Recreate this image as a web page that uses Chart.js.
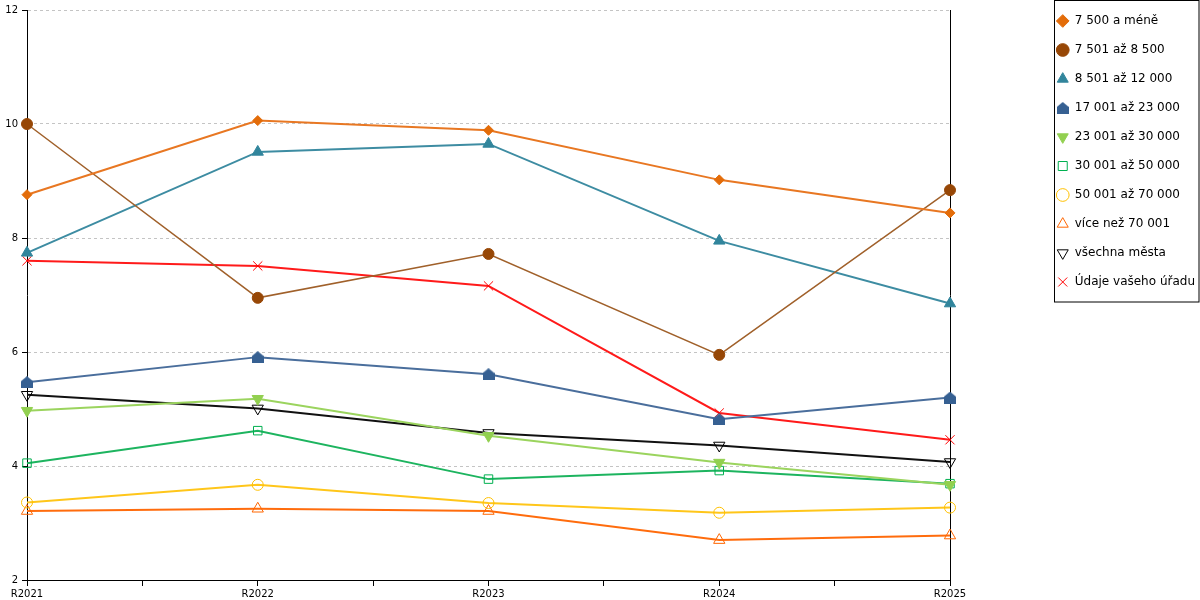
<!DOCTYPE html>
<html>
<head>
<meta charset="utf-8">
<script src="https://cdn.jsdelivr.net/npm/chart.js@4/dist/chart.umd.min.js"></script>
<style>
  body { margin: 0; background: #fff; }
</style>
</head>
<body>
<canvas id="chart" width="1200" height="600"></canvas>
<script>
var years = ["R2021", "R2022", "R2023", "R2024", "R2025"];

var names = [
  "7 500 a méně",
  "7 501 až 8 500",
  "8 501 až 12 000",
  "17 001 až 23 000",
  "23 001 až 30 000",
  "30 001 až 50 000",
  "50 001 až 70 000",
  "více než 70 001",
  "všechna města",
  "Údaje vašeho úřadu"
];

var upTo7500 = [8.76, 10.06, 9.89, 9.02, 8.44];
var to8500 = [10.0, 6.95, 7.72, 5.95, 8.84];
var to12000 = [7.74, 9.51, 9.65, 7.95, 6.85];
var to23000 = [5.47, 5.91, 5.61, 4.82, 5.2];
var to30000 = [4.97, 5.18, 4.53, 4.06, 3.67];
var to50000 = [4.05, 4.62, 3.77, 3.92, 3.69];
var to70000 = [3.36, 3.67, 3.35, 3.18, 3.27];
var over70001 = [3.21, 3.25, 3.21, 2.7, 2.78];
var allTowns = [5.25, 5.01, 4.58, 4.36, 4.07];
var yourOffice = [7.6, 7.51, 7.16, 4.93, 4.46];

var yTicks = [2, 4, 6, 8, 10, 12];

// house shaped marker for 17 001 - 23 000
function houseMarker(color) {
  var c = document.createElement("canvas");
  c.width = 12;
  c.height = 12;
  var g = c.getContext("2d");
  g.fillStyle = color;
  g.beginPath();
  g.moveTo(6, 0);
  g.lineTo(12, 5);
  g.lineTo(12, 12);
  g.lineTo(0, 12);
  g.lineTo(0, 5);
  g.closePath();
  g.fill();
  return c;
}

function pts(values) {
  return values.map(function (v, i) { return { x: i, y: v }; });
}

function series(label, values, color, lineColor, style, radius, filled, rotation, width) {
  return {
    label: label,
    data: pts(values),
    borderColor: lineColor,
    backgroundColor: filled ? color : "rgba(0,0,0,0)",
    borderWidth: width || 2,
    pointStyle: style,
    pointRadius: radius,
    pointHoverRadius: radius,
    pointRotation: rotation || 0,
    pointBackgroundColor: filled ? color : "rgba(0,0,0,0)",
    pointBorderColor: color,
    pointBorderWidth: 1,
    tension: 0,
    clip: false
  };
}

var legendBorder = {
  id: "legendBorder",
  afterLayout: function (chart) {
    // nudge the legend to where the original sits
    var lg = chart.legend;
    lg.left += 5;
    lg.right += 5;
    lg.top -= 2;
    lg.bottom -= 2;
  },
  afterDraw: function (chart) {
    var boxes = chart.legend.legendHitBoxes;
    if (!boxes || !boxes.length) return;
    var last = boxes[boxes.length - 1];
    var ctx = chart.ctx;
    var x0 = Math.round(boxes[0].left) - 2.5;
    var y1 = Math.round(last.top + last.height) + 13.5;
    ctx.save();
    ctx.strokeStyle = "#000";
    ctx.lineWidth = 1;
    ctx.strokeRect(x0, 0.5, chart.width - 1 - x0, y1);
    ctx.restore();
  }
};

var ctx = document.getElementById("chart").getContext("2d");
var chart = new Chart(ctx, {
  type: "line",
  data: {
    datasets: [
      series(names[0], upTo7500, "#E36C09", "#E87722", "rectRot", 5, true),
      series(names[1], to8500, "#974706", "#A0602A", "circle", 5.5, true, 0, 1.5),
      series(names[2], to12000, "#31859C", "#3D8CA2", "triangle", 6.5, true),
      series(names[3], to23000, "#366092", "#4A6E9C", houseMarker("#366092"), 6, true),
      series(names[4], to30000, "#92D050", "#9BD45E", "triangle", 6.5, true, 180),
      series(names[5], to50000, "#00B050", "#1DB45F", "rect", 6, false),
      series(names[6], to70000, "#FFC000", "#FFC61A", "circle", 5.5, false),
      series(names[7], over70001, "#FF6600", "#FF6C0D", "triangle", 6.5, false),
      series(names[8], allTowns, "#000000", "#111111", "triangle", 6.5, false, 180),
      series(names[9], yourOffice, "#FF0000", "#FF1A1A", "crossRot", 6.5, false)
    ]
  },
  options: {
    responsive: false,
    animation: false,
    layout: { padding: 0 },
    scales: {
      x: {
        type: "linear",
        position: "bottom",
        min: 0,
        max: 4,
        afterBuildTicks: function (scale) {
          var t = [];
          for (var i = 0; i <= 8; i++) t.push({ value: i / 2 });
          scale.ticks = t;
        },
        afterFit: function (scale) { scale.height = 20; },
        ticks: {
          autoSkip: false,
          maxRotation: 0,
          padding: 2,
          color: "#000",
          font: { family: "DejaVu Sans", size: 10 },
          callback: function (v) { return Number.isInteger(v) ? years[v] : ""; }
        },
        grid: {
          drawOnChartArea: false,
          tickColor: "#000",
          tickLength: 6
        },
        border: { color: "#000", width: 1 }
      },
      xTop: {
        type: "linear",
        position: "top",
        min: 0,
        max: 4,
        afterFit: function (scale) { scale.height = 10; },
        ticks: { display: false },
        grid: { display: false },
        border: { display: false }
      },
      y: {
        min: 2,
        max: 12,
        afterBuildTicks: function (scale) {
          scale.ticks = yTicks.map(function (v) { return { value: v }; });
        },
        afterFit: function (scale) { scale.width = 27; },
        ticks: {
          padding: 4,
          color: "#000",
          font: { family: "DejaVu Sans", size: 10 }
        },
        grid: {
          color: "#c4c4c4",
          tickColor: "#000",
          tickLength: 5
        },
        border: { color: "#000", width: 1, dash: [3, 3] }
      },
      yRight: {
        position: "right",
        min: 2,
        max: 12,
        afterFit: function (scale) {
          scale.width = scale.chart.width - 950 - scale.chart.legend.width;
        },
        ticks: { display: false },
        grid: { drawOnChartArea: false, drawTicks: false },
        border: { color: "#000", width: 1 }
      }
    },
    plugins: {
      legend: {
        position: "right",
        align: "start",
        labels: {
          usePointStyle: true,
          boxHeight: 9,
          padding: 17,
          color: "#000",
          font: { family: "DejaVu Sans", size: 12 }
        }
      },
      tooltip: { enabled: false }
    }
  },
  plugins: [legendBorder]
});
</script>
</body>
</html>
